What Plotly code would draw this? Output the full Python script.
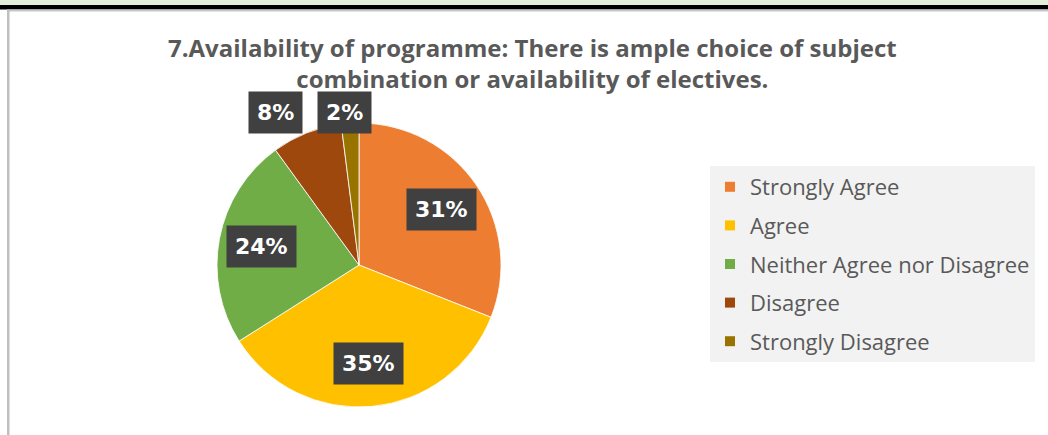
import math
import plotly.graph_objects as go

# ---- data ----
categories = ["Strongly Agree", "Agree", "Neither Agree nor Disagree", "Disagree", "Strongly Disagree"]
values = [31, 35, 24, 8, 2]
colors = ["#ED7D31", "#FFC000", "#70AD47", "#9E480E", "#997300"]
title_text = ("7.Availability of programme: There is ample choice of subject<br>"
              "combination or availability of electives.")

W, H = 1048, 435
CX, CY, R = 359, 265, 142  # pie centre / radius in pixels

def px_x(x):
    return x / W

def px_y(y):
    return 1 - y / H

fig = go.Figure()

fig.add_trace(go.Pie(
    labels=categories,
    values=values,
    marker=dict(colors=colors, line=dict(color="white", width=0.8)),
    sort=False,
    direction="clockwise",
    rotation=0,
    textinfo="none",
    hoverinfo="label+percent",
    showlegend=False,
    domain=dict(x=[px_x(CX - R), px_x(CX + R)], y=[px_y(CY + R), px_y(CY - R)]),
))

# legend entries (one per category)
for cat, col in zip(categories, colors):
    fig.add_trace(go.Scatter(
        x=[None], y=[None], mode="markers", name=cat, legendgroup=cat,
        marker=dict(symbol="square", size=10, color=col),
        showlegend=True, hoverinfo="skip",
    ))

# data labels computed from the slice angles
total = sum(values)
cum = 0
annotations = []
for v in values:
    mid = (cum + v / 2) / total * 2 * math.pi
    cum += v
    pct = round(v / total * 100)
    if pct >= 10:
        lx = CX + 0.70 * R * math.sin(mid)
        ly = CY - 0.70 * R * math.cos(mid)
    else:
        lx = CX + 1.6 * R * math.sin(mid)
        ly = CY - R - 10
    annotations.append(dict(
        x=px_x(lx), y=px_y(ly), xref="paper", yref="paper",
        text=f"<b>{pct}%</b>", showarrow=False,
        font=dict(family="DejaVu Sans", size=22, color="white"),
        bgcolor="#404040", borderpad=8,
        xanchor="center", yanchor="middle",
    ))

shapes = [
    dict(type="rect", xref="paper", yref="paper", x0=0, x1=1, y0=px_y(5), y1=1,
         fillcolor="#E2EFDA", line=dict(width=0), layer="below"),
    dict(type="rect", xref="paper", yref="paper", x0=0, x1=1, y0=px_y(9.5), y1=px_y(5),
         fillcolor="black", line=dict(width=0)),
    dict(type="rect", xref="paper", yref="paper", x0=px_x(7), x1=1, y0=px_y(11.5), y1=px_y(9.5),
         fillcolor="#C8C8C8", line=dict(width=0)),
    dict(type="rect", xref="paper", yref="paper", x0=px_x(7), x1=px_x(9.5), y0=0, y1=px_y(9.5),
         fillcolor="#BFBFBF", line=dict(width=0)),
]

fig.update_layout(
    width=W, height=H,
    margin=dict(l=0, r=0, t=0, b=0),
    paper_bgcolor="white", plot_bgcolor="white",
    title=dict(text=title_text, x=0.508, xanchor="center", y=px_y(57), yanchor="middle",
               font=dict(family="Open Sans", size=24, color="#595959", weight="bold")),
    xaxis=dict(visible=False), yaxis=dict(visible=False),
    legend=dict(x=px_x(710), xanchor="left", y=px_y(166), yanchor="top",
                bgcolor="#F2F2F2", font=dict(family="Open Sans", size=22, color="#595959"),
                traceorder="grouped", tracegroupgap=7, itemclick=False),
    annotations=annotations,
    shapes=shapes,
)

fig.write_html("out.html", config={"displayModeBar": False},
               post_script="document.body.style.margin='0';document.body.style.overflow='hidden';")
